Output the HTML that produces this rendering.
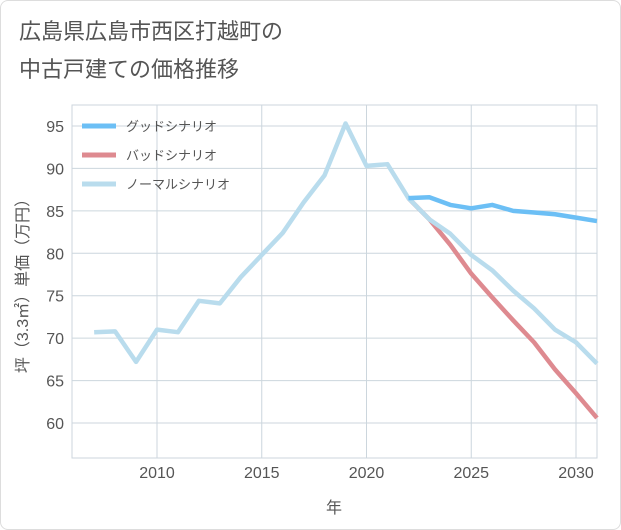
<!DOCTYPE html>
<html><head><meta charset="utf-8"><style>
body{margin:0;background:#fff;font-family:"Liberation Sans","Noto Sans CJK JP",sans-serif;}
#card{position:absolute;left:0;top:0;width:619px;height:528px;border:1px solid #ddd;border-radius:8px;background:#fff;}
h1{position:absolute;left:18px;top:12px;margin:0;font-size:22px;font-weight:normal;color:#555;line-height:38px;font-family:"Liberation Sans","Noto Sans CJK JP",sans-serif;}
svg{position:absolute;left:0;top:0;}
text{font-family:"Liberation Sans","Noto Sans CJK JP",sans-serif;}
</style></head><body>
<div id="card">
<h1>広島県広島市西区打越町の<br>中古戸建ての価格推移</h1>
</div>
<svg id="chart" width="621" height="530"></svg>
<script>
const normalYears=[2007,2008,2009,2010,2011,2012,2013,2014,2015,2016,2017,2018,2019,2020,2021,2022,2023,2024,2025,2026,2027,2028,2029,2030,2031];
const normalValues=[70.7,70.8,67.2,71.0,70.7,74.4,74.1,77.2,79.8,82.4,86.0,89.2,95.3,90.3,90.5,86.5,84.0,82.3,79.8,78.0,75.6,73.5,71.0,69.5,67.0];
const futureYears=[2022,2023,2024,2025,2026,2027,2028,2029,2030,2031];
const goodValues=[86.5,86.6,85.7,85.3,85.7,85.0,84.8,84.6,84.2,83.8];
const badValues=[86.5,84.0,81.0,77.6,74.8,72.1,69.5,66.3,63.5,60.6];
const xTicks=[2010,2015,2020,2025,2030];
const yTicks=[60,65,70,75,80,85,90,95];
const legendLabels=["グッドシナリオ","バッドシナリオ","ノーマルシナリオ"];
const colors=["#6cbff5","#de8a90","#b9dced"];
const L=72,R=597,T=105,B=458;
const x=v=>157+(v-2010)*(576-157)/20;
const y=v=>126+(95-v)*(423-126)/35;
const svg=document.getElementById('chart');
const NS='http://www.w3.org/2000/svg';
function mk(tag,attrs){const e=document.createElementNS(NS,tag);for(const k in attrs)e.setAttribute(k,attrs[k]);svg.appendChild(e);return e;}
let e=mk('rect',{x:L,y:T,width:R-L,height:B-T,fill:'#fff',stroke:'#ccd6dd'});


xTicks.forEach(t=>{
 let g=mk('line',{x1:x(t),x2:x(t),y1:T,y2:B,stroke:'#ccd6dd'});
 
 
 let l=mk('text',{x:x(t),y:B+20,'text-anchor':'middle','font-size':16,fill:'#555'});l.textContent=t;
 
 
});
yTicks.forEach(t=>{
 let g=mk('line',{x1:L,x2:R,y1:y(t),y2:y(t),stroke:'#ccd6dd'});
 
 
 let l=mk('text',{x:L-8,y:y(t)+6,'text-anchor':'end','font-size':16,fill:'#555'});l.textContent=t;
 
 
});
let xt=mk('text',{x:334,y:513,'text-anchor':'middle','font-size':16,fill:'#555'});xt.textContent='年';


let yt=mk('text',{x:0,y:0,'text-anchor':'middle','font-size':16,fill:'#555',transform:'translate(28,282) rotate(-90)'});yt.textContent='坪（3.3㎡）単価（万円）';


function line(xs,vs,c,name){
 let p=mk('polyline',{points:xs.map((t,i)=>x(t)+','+y(vs[i])).join(' '),fill:'none',stroke:c,'stroke-width':4.5,'stroke-linejoin':'round'});
 
 
}
line(futureYears,badValues,colors[1],'bad-scenario-line');
line(normalYears,normalValues,colors[2],'normal-scenario-line');
line(futureYears,goodValues,colors[0],'good-scenario-line');
legendLabels.forEach((s,i)=>{
 let yy=126+i*29;
 let m=mk('line',{x1:82,x2:116,y1:yy,y2:yy,stroke:colors[i],'stroke-width':5});
 
 
 let l=mk('text',{x:126,y:yy+5,'font-size':13,fill:'#555'});l.textContent=s;
 
 
});
</script>
</body></html>
